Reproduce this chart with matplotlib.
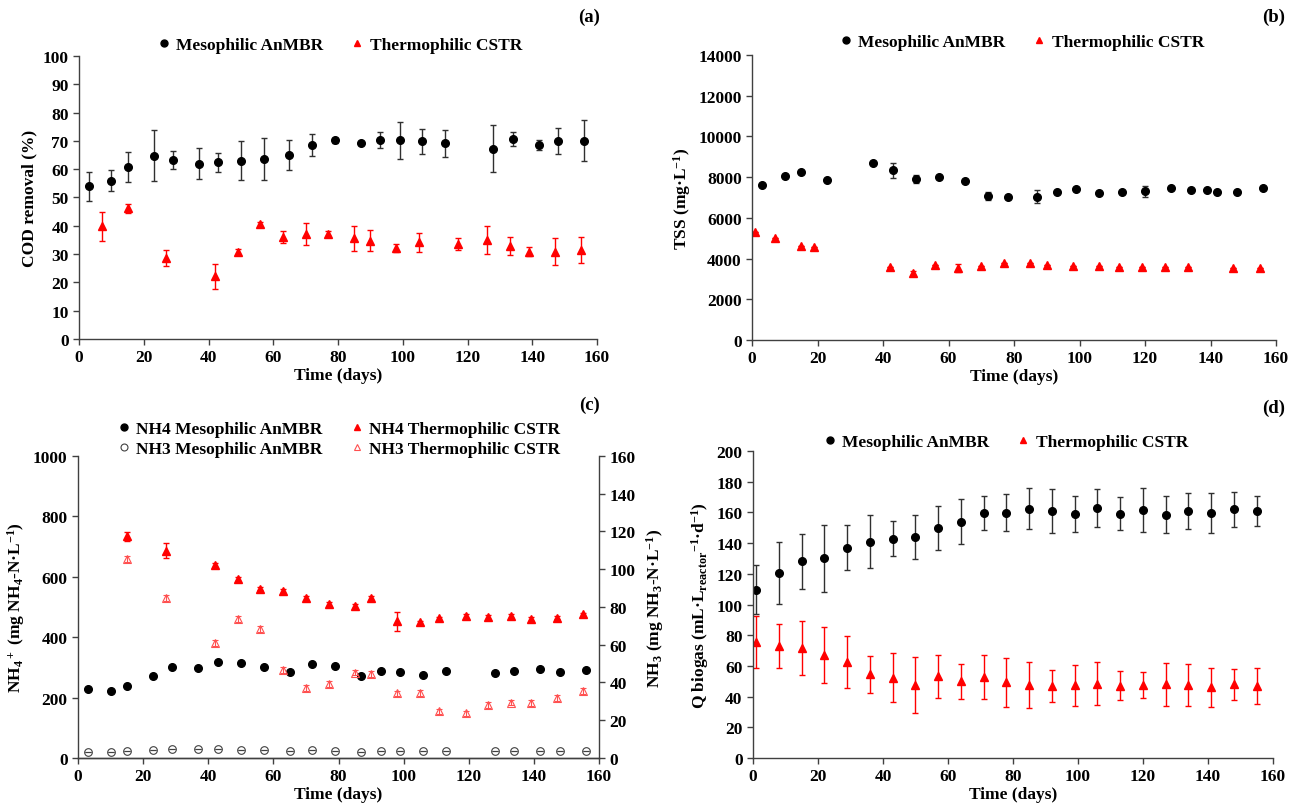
import matplotlib
matplotlib.use("Agg")
import matplotlib.pyplot as plt
from matplotlib.lines import Line2D

plt.rcParams['font.family'] = ['Liberation Serif', 'DejaVu Serif']
plt.rcParams['font.weight'] = 'bold'
plt.rcParams['axes.labelweight'] = 'bold'
plt.rcParams['mathtext.fontset'] = 'custom'
plt.rcParams['mathtext.rm'] = 'Liberation Serif:bold'
plt.rcParams['mathtext.it'] = 'Liberation Serif:bold'
plt.rcParams['mathtext.bf'] = 'Liberation Serif:bold'
plt.rcParams['mathtext.default'] = 'rm'

# (a) COD removal
cod_meso_days = [3, 10, 15, 23, 29, 37, 43, 50, 57, 65, 72, 79, 87, 93, 99, 106, 113, 128, 134, 142, 148, 156]
cod_meso = [53.9, 56.0, 60.8, 64.7, 63.3, 61.9, 62.4, 63.0, 63.5, 65.0, 68.6, 70.2, 69.4, 70.2, 70.2, 69.9, 69.2, 67.3, 70.8, 68.6, 69.9, 70.1]
cod_meso_err = [5.0, 3.7, 5.2, 9.0, 3.2, 5.5, 3.4, 6.8, 7.4, 5.3, 3.9, 1.0, 0.0, 2.8, 6.5, 4.4, 4.8, 8.2, 2.5, 1.8, 4.6, 7.2]
cod_thermo_days = [7, 15, 27, 42, 49, 56, 63, 70, 77, 85, 90, 98, 105, 117, 126, 133, 139, 147, 155]
cod_thermo = [39.8, 46.2, 28.7, 22.1, 30.8, 40.5, 36.1, 37.2, 37.2, 35.6, 34.8, 32.2, 34.1, 33.5, 35.1, 32.9, 30.9, 30.9, 31.5]
cod_thermo_err = [5.0, 1.6, 2.8, 4.4, 1.0, 1.0, 2.2, 3.9, 0.8, 4.5, 3.6, 1.4, 3.3, 2.2, 4.9, 3.2, 1.6, 4.8, 4.6]

# (b) TSS
tss_meso_days = [3, 10, 15, 23, 37, 43, 50, 57, 65, 72, 78, 87, 93, 99, 106, 113, 120, 128, 134, 139, 142, 148, 156]
tss_meso = [7630, 8040, 8230, 7840, 8710, 8330, 7920, 7990, 7830, 7060, 7010, 7040, 7290, 7400, 7220, 7270, 7300, 7480, 7350, 7350, 7250, 7290, 7480]
tss_meso_err = [0, 0, 0, 0, 0, 370, 200, 0, 0, 200, 0, 330, 0, 0, 0, 0, 250, 0, 0, 0, 0, 0, 0]
tss_thermo_days = [1, 7, 15, 19, 42, 49, 56, 63, 70, 77, 85, 90, 98, 106, 112, 119, 126, 133, 147, 155]
tss_thermo = [5310, 5000, 4640, 4590, 3580, 3300, 3710, 3530, 3630, 3790, 3790, 3690, 3660, 3660, 3590, 3610, 3610, 3580, 3530, 3530]
tss_thermo_err = [0, 0, 0, 0, 0, 100, 0, 200, 0, 0, 0, 0, 0, 0, 0, 0, 0, 0, 0, 0]

# (c) ammonium / free ammonia
nh_meso_days = [3, 10, 15, 23, 29, 37, 43, 50, 57, 65, 72, 79, 87, 93, 99, 106, 113, 128, 134, 142, 148, 156]
nh4_meso = [227, 221, 239, 273, 301, 297, 319, 314, 300, 286, 312, 303, 272, 288, 286, 276, 287, 280, 287, 293, 284, 290]
nh3_meso = [3.0, 3.0, 3.5, 4.1, 4.6, 4.9, 4.6, 4.1, 4.4, 3.7, 4.1, 3.7, 3.4, 3.9, 3.7, 3.7, 3.7, 3.5, 3.7, 3.7, 3.7, 3.7]
nh_thermo_days = [15, 27, 42, 49, 56, 63, 70, 77, 85, 90, 98, 105, 111, 119, 126, 133, 139, 147, 155]
nh4_thermo = [734, 686, 638, 593, 561, 553, 529, 509, 504, 530, 452, 449, 462, 471, 466, 469, 461, 465, 475]
nh4_thermo_err = [15, 25, 6, 6, 6, 6, 6, 6, 6, 6, 30, 6, 6, 6, 6, 6, 6, 6, 6]
nh3_thermo = [105.5, 84.7, 61.0, 73.7, 68.4, 46.6, 36.9, 39.1, 45.2, 44.6, 34.2, 34.4, 24.7, 23.6, 28.0, 29.3, 29.1, 31.6, 35.5]
nh3_thermo_err = [1.5, 1.5, 1.5, 1.5, 1.5, 1.5, 1.5, 1.5, 1.5, 1.5, 1.5, 1.5, 1.5, 1.5, 1.5, 1.5, 1.5, 1.5, 1.5]

# (d) biogas flow
q_days = [1, 8, 15, 22, 29, 36, 43, 50, 57, 64, 71, 78, 85, 92, 99, 106, 113, 120, 127, 134, 141, 148, 155]
q_meso = [109.5, 120.6, 128.2, 130.0, 137.0, 141.0, 142.7, 144.0, 149.7, 154.0, 159.7, 159.9, 162.5, 161.2, 159.0, 162.9, 159.2, 161.8, 158.6, 161.0, 159.7, 162.0, 161.0]
q_meso_err = [16, 20, 18, 22, 14.5, 17, 11.4, 14.5, 14.5, 14.5, 11.2, 12.3, 13.2, 14.3, 12, 12.3, 10.8, 14.3, 12.3, 11.7, 12.8, 11.6, 10]
q_thermo = [75.7, 73.1, 71.8, 67.2, 62.3, 54.4, 52.3, 47.3, 53.4, 49.9, 52.5, 49.2, 47.5, 46.9, 47.3, 48.4, 47.1, 47.3, 47.9, 47.3, 46.2, 47.9, 46.9]
q_thermo_err = [17, 14.5, 17.5, 18.3, 17, 12, 16, 18.2, 14, 11.5, 14.3, 15.8, 15.2, 10.7, 13.2, 14.1, 9.3, 8.4, 14.3, 13.7, 12.7, 10.3, 11.7]

FS = 12.5
SPINE = '#404040'


def style_axis(ax, ymax, ystep, right=False):
    ax.set_xlim(0, 160)
    ax.set_xticks(range(0, 161, 20))
    ax.set_ylim(0, ymax)
    ax.set_yticks(range(0, ymax + 1, ystep))
    ax.spines['top'].set_visible(False)
    if not right:
        ax.spines['right'].set_visible(False)
    for s in ax.spines.values():
        s.set_color(SPINE)
        s.set_linewidth(1.0)
    ax.tick_params(direction='out', length=4, width=1.0, color=SPINE, labelsize=FS)
    for lab in ax.get_xticklabels() + ax.get_yticklabels():
        lab.set_fontweight('bold')
    ax.set_xlabel('Time (days)', fontsize=FS, labelpad=1)


def pair(ax, x1, y1, e1, x2, y2, e2):
    ax.errorbar(x1, y1, yerr=e1, fmt='o', color='black', ms=5.5, ecolor='#303030',
                elinewidth=1, capsize=2, capthick=1)
    ax.errorbar(x2, y2, yerr=e2, fmt='^', color='red', ms=5.5, ecolor='red',
                elinewidth=1, capsize=2, capthick=1)


# legend handles: markers only, like the original
meso_h = Line2D([], [], ls='none', marker='o', color='black', ms=5)
thermo_h = Line2D([], [], ls='none', marker='^', color='red', ms=5)
nh3_meso_h = Line2D([], [], ls='none', marker='o', mfc='none', mec='#404040', mew=0.8, ms=5)
nh3_thermo_h = Line2D([], [], ls='none', marker='^', mfc='none', mec='#ff5050', mew=0.8, ms=5)

fig = plt.figure(figsize=(12.98, 8.12), dpi=100)
ax_a = fig.add_axes([0.0609, 0.5813, 0.3991, 0.3485])
ax_b = fig.add_axes([0.5794, 0.5800, 0.4037, 0.3510])
ax_c = fig.add_axes([0.0601, 0.0653, 0.4014, 0.3720])
ax_d = fig.add_axes([0.5801, 0.0653, 0.4006, 0.3780])

leg_kw = dict(frameon=False, fontsize=FS, handlelength=0.7, handletextpad=0.35,
              columnspacing=1.6, borderaxespad=0, loc='center')
two = ['Mesophilic AnMBR', 'Thermophilic CSTR']

# (a)
pair(ax_a, cod_meso_days, cod_meso, cod_meso_err, cod_thermo_days, cod_thermo, cod_thermo_err)
style_axis(ax_a, 100, 10)
ax_a.set_ylabel('COD removal (%)', fontsize=FS, labelpad=4)
ax_a.legend([meso_h, thermo_h], two, ncol=2, bbox_to_anchor=(340 / 1298, 1 - 46 / 812),
            bbox_transform=fig.transFigure, **leg_kw)

# (b)
pair(ax_b, tss_meso_days, tss_meso, tss_meso_err, tss_thermo_days, tss_thermo, tss_thermo_err)
style_axis(ax_b, 14000, 2000)
ax_b.set_ylabel('TSS (mg·L$^{-1}$)', fontsize=FS, labelpad=4)
ax_b.legend([meso_h, thermo_h], two, ncol=2, bbox_to_anchor=(1022 / 1298, 1 - 43 / 812),
            bbox_transform=fig.transFigure, **leg_kw)

# (c) left axis NH4+, right axis NH3
style_axis(ax_c, 1000, 200)
ax_c2 = ax_c.twinx()
style_axis(ax_c2, 160, 20, right=True)
ax_c2.spines['left'].set_visible(False)
ax_c2.set_xlabel('')
ax_c.errorbar(nh_meso_days, nh4_meso, yerr=0, fmt='o', color='black', ms=5.5, capsize=2)
ax_c.errorbar(nh_thermo_days, nh4_thermo, yerr=nh4_thermo_err, fmt='^', color='red', ms=5.5,
              ecolor='red', elinewidth=1, capsize=2)
ax_c2.errorbar(nh_meso_days, nh3_meso, yerr=0, fmt='o', mfc='none', mec='#404040', mew=0.8,
               ms=5.5, ecolor='#404040', elinewidth=0.8, capsize=2)
ax_c2.errorbar(nh_thermo_days, nh3_thermo, yerr=nh3_thermo_err, fmt='^', mfc='none', mec='#ff5050',
               mew=0.8, ms=5.5, ecolor='#ff5050', elinewidth=0.8, capsize=2)
ax_c.set_ylabel('NH$_4$$^+$ (mg NH$_4$-N·L$^{-1}$)', fontsize=FS, labelpad=4)
ax_c2.set_ylabel('NH$_3$ (mg NH$_3$-N·L$^{-1}$)', fontsize=FS, labelpad=6)
ax_c2.legend([meso_h, nh3_meso_h, thermo_h, nh3_thermo_h],
             ['NH4 Mesophilic AnMBR', 'NH3 Mesophilic AnMBR', 'NH4 Thermophilic CSTR', 'NH3 Thermophilic CSTR'],
             ncol=2, bbox_to_anchor=(339 / 1298, 1 - 440 / 812), bbox_transform=fig.transFigure,
             labelspacing=0.25, **leg_kw)

# (d)
pair(ax_d, q_days, q_meso, q_meso_err, q_days, q_thermo, q_thermo_err)
style_axis(ax_d, 200, 20)
ax_d.set_ylabel('Q biogas (mL·L$_{reactor}$$^{-1}$·d$^{-1}$)', fontsize=FS, labelpad=4)
ax_d.legend([meso_h, thermo_h], two, ncol=2, bbox_to_anchor=(1006 / 1298, 1 - 443 / 812),
            bbox_transform=fig.transFigure, **leg_kw)

# panel letters
for x, y, t in [(600, 17, '(a)'), (1285, 17, '(b)'), (600, 405, '(c)'), (1285, 408, '(d)')]:
    fig.text(x / 1298, 1 - y / 812, t, ha='right', va='center', fontsize=13.5, fontweight='bold')

fig.savefig('out.png', dpi=100)
